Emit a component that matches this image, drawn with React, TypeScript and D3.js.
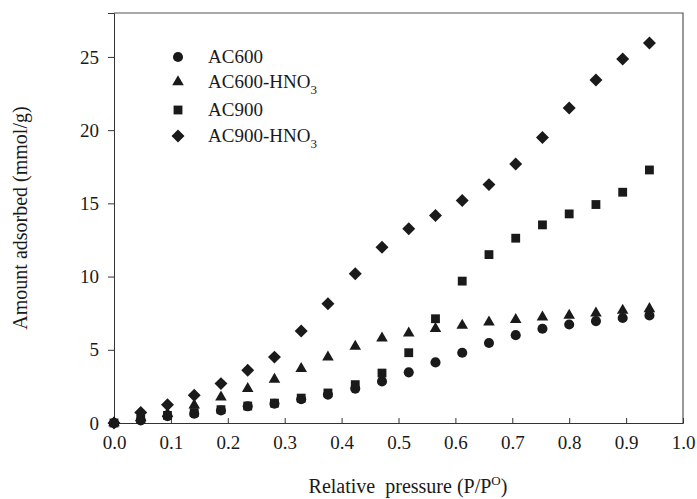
import React, { useEffect, useRef } from 'react';
import * as d3 from 'd3';

// relative pressure P/P0
const pressure = [0, 0.047, 0.094, 0.141, 0.188, 0.235, 0.282, 0.329, 0.376, 0.424, 0.471, 0.518, 0.565, 0.612, 0.659, 0.706, 0.753, 0.8, 0.847, 0.894, 0.941];

// amount adsorbed (mmol/g)
const ac600 = [0, 0.18, 0.46, 0.64, 0.85, 1.14, 1.32, 1.62, 1.94, 2.35, 2.84, 3.46, 4.14, 4.8, 5.46, 6.0, 6.44, 6.73, 6.96, 7.17, 7.35];
const ac600HNO3 = [0, 0.35, 0.64, 1.21, 1.77, 2.35, 2.98, 3.71, 4.5, 5.23, 5.8, 6.14, 6.44, 6.66, 6.89, 7.05, 7.23, 7.35, 7.5, 7.69, 7.8];
const ac900 = [0, 0.25, 0.52, 0.71, 0.91, 1.16, 1.36, 1.7, 2.05, 2.62, 3.41, 4.8, 7.12, 9.69, 11.5, 12.62, 13.53, 14.28, 14.92, 15.76, 17.28];
const ac900HNO3 = [0, 0.71, 1.25, 1.89, 2.69, 3.6, 4.5, 6.28, 8.14, 10.19, 12.0, 13.26, 14.17, 15.19, 16.28, 17.69, 19.5, 21.51, 23.42, 24.86, 25.95];

const xTicks = [0, 0.1, 0.2, 0.3, 0.4, 0.5, 0.6, 0.7, 0.8, 0.9, 1.0];
const yTicks = [0, 5, 10, 15, 20, 25];

const FONT = '"Liberation Serif", "DejaVu Serif", serif';
const INK = '#1a1a1a';

const W = 697;
const H = 499;
const margin = { top: 13, right: 14, bottom: 76, left: 114 };

const x = d3.scaleLinear().domain([0, 1]).range([margin.left, W - margin.right]);
const y = d3.scaleLinear().domain([0, 28]).range([H - margin.bottom, margin.top]);

const symCircle = d3.symbol().type(d3.symbolCircle).size(80)();
const symTriangle = d3.symbol().type(d3.symbolTriangle).size(58)();
const symSquare = d3.symbol().type(d3.symbolSquare).size(78)();
const symDiamond = d3.symbol().type(d3.symbolSquare).size(84)();

const series = [
  { name: 'AC600', sub: '', values: ac600, path: symCircle, rot: 0 },
  { name: 'AC600-HNO', sub: '3', values: ac600HNO3, path: symTriangle, rot: 0 },
  { name: 'AC900', sub: '', values: ac900, path: symSquare, rot: 0 },
  { name: 'AC900-HNO', sub: '3', values: ac900HNO3, path: symDiamond, rot: 45 },
];

const legendY = [57, 82, 110, 136];

export default function App() {
  const xAxisRef = useRef<SVGGElement>(null);
  const yAxisRef = useRef<SVGGElement>(null);

  useEffect(() => {
    const xa = d3.select(xAxisRef.current);
    xa.attr('transform', `translate(0, ${y(0)})`)
      .call(
        d3.axisBottom(x).tickValues(xTicks).tickFormat(d3.format('.1f')).tickSize(-5).tickPadding(13)
      );
    xa.select('.domain').attr('stroke', '#333');
    xa.selectAll('line').attr('stroke', '#333');
    xa.selectAll('text')
      .attr('fill', INK)
      .style('font-family', FONT)
      .style('font-size', '19px');

    const ya = d3.select(yAxisRef.current);
    ya.attr('transform', `translate(${x(0)}, 0)`)
      .call(d3.axisLeft(y).tickValues(yTicks).tickSize(6).tickPadding(9));
    ya.select('.domain').attr('stroke', '#333');
    ya.selectAll('line').attr('stroke', '#333');
    ya.selectAll('text')
      .attr('fill', INK)
      .style('font-family', FONT)
      .style('font-size', '19px');
  }, []);

  return (
    <svg
      width={W}
      height={H}
      style={{ position: 'absolute', left: 0, top: 0, background: '#fff' }}
    >
      <rect x={0} y={0} width={W} height={H} fill="#fff" />
      {/* frame top and right */}
      <path
        d={`M${x(0)},${y(28)}H${x(1)}V${y(0)}`}
        fill="none"
        stroke="#555"
        strokeWidth={1.2}
      />
      <g ref={xAxisRef} />
      <g ref={yAxisRef} />

      {series.map((s) => (
        <g key={s.name + s.sub}>
          {s.values.map((v, i) => (
            <path
              key={i}
              d={s.path}
              fill={INK}
              transform={`translate(${x(pressure[i])}, ${y(v)}) rotate(${s.rot})`}
            />
          ))}
        </g>
      ))}

      {/* legend */}
      {series.map((s, i) => (
        <g key={'lg' + i}>
          <path d={s.path} fill={INK} transform={`translate(178, ${legendY[i]}) rotate(${s.rot})`} />
          <text x={208} y={legendY[i] + 6} fill={INK} style={{ fontFamily: FONT, fontSize: '19px' }}>
            {s.name}
            {s.sub && (
              <tspan dy={6} style={{ fontSize: '13px' }}>
                {s.sub}
              </tspan>
            )}
          </text>
        </g>
      ))}

      {/* axis titles */}
      <text
        transform={`translate(27, ${(y(0) + y(28)) / 2}) rotate(-90)`}
        textAnchor="middle"
        fill={INK}
        style={{ fontFamily: FONT, fontSize: '20px' }}
      >
        Amount adsorbed (mmol/g)
      </text>
      <text
        x={408}
        y={493}
        textAnchor="middle"
        fill={INK}
        style={{ fontFamily: FONT, fontSize: '20px', whiteSpace: 'pre' }}
      >
        {'Relative  pressure (P/P'}
        <tspan dy={-8} style={{ fontSize: '13px' }}>O</tspan>
        <tspan dy={8}>)</tspan>
      </text>
    </svg>
  );
}
